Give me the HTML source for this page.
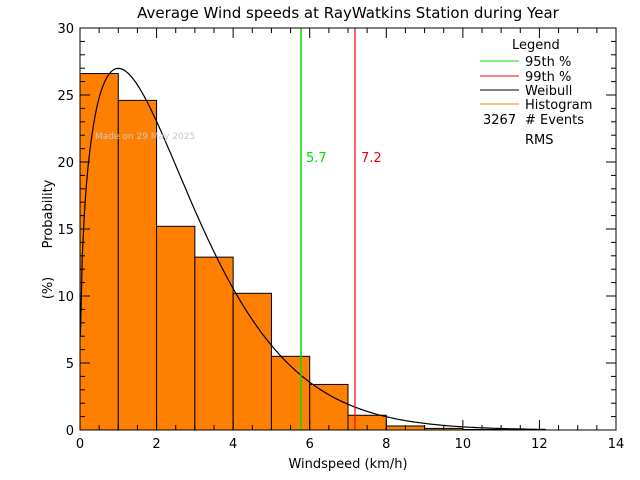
<!DOCTYPE html>
<html><head><style>body{margin:0;background:#fff}svg{display:block}text{font-family:"DejaVu Sans","Liberation Sans",sans-serif}</style></head>
<body>
<svg id="s" width="640" height="480" xmlns="http://www.w3.org/2000/svg">
<rect width="640" height="480" fill="#fff"/>
<g id="bars" fill="#ff8000" stroke="#000" stroke-width="1"></g>
<path id="wb" fill="none" stroke="#000" stroke-width="1.2"/>
<line x1="301" y1="28" x2="301" y2="430" stroke="#00e000" stroke-width="1.5"/>
<line x1="355" y1="28" x2="355" y2="430" stroke="#ff0000" stroke-width="1.2"/>
<text x="306" y="162" font-size="13" fill="#00e000">5.7</text>
<text x="361" y="162" font-size="13" fill="#ff0000">7.2</text>
<text x="95" y="139" font-size="9" fill="#c8c8c8">Made on 29 May 2025</text>
<rect x="80" y="28" width="536" height="402" fill="none" stroke="#000"/>
<g id="ticks" stroke="#000"></g>
<g font-size="13" fill="#000" id="lbl"></g>
<text x="348" y="18" font-size="15" text-anchor="middle">Average Wind speeds at RayWatkins Station during Year</text>
<text x="348" y="468" font-size="13" text-anchor="middle">Windspeed (km/h)</text>
<text transform="translate(52,214) rotate(-90)" font-size="13" text-anchor="middle">Probability</text>
<text transform="translate(52,288) rotate(-90)" font-size="13" text-anchor="middle">(%)</text>
<g font-size="13">
<text x="512" y="49">Legend</text>
<line x1="480" y1="61" x2="519" y2="61" stroke="#00e000"/><text x="525" y="66">95th %</text>
<line x1="480" y1="76" x2="519" y2="76" stroke="#ff0000"/><text x="525" y="81">99th %</text>
<line x1="480" y1="90" x2="519" y2="90" stroke="#000"/><text x="525" y="95">Weibull</text>
<line x1="480" y1="104" x2="519" y2="104" stroke="#ff8000"/><text x="525" y="109">Histogram</text>
<text x="483" y="124">3267</text><text x="525" y="124"># Events</text>
<text x="525" y="144">RMS</text>
</g>
</svg>
<script>
const X=v=>80+v*536/14, Y=v=>430-v*402/30, NS="http://www.w3.org/2000/svg";
function el(p,t,a){const e=document.createElementNS(NS,t);for(const k in a)e.setAttribute(k,a[k]);document.getElementById(p).appendChild(e);return e;}
const h=[26.6,24.6,15.2,12.9,10.2,5.5,3.4,1.1,0.3,0.12,0.04,0.03];
h.forEach((v,i)=>el("bars","rect",{x:X(i),y:Y(v),width:X(1)-X(0),height:Y(0)-Y(v)}));
const k=1.35,l=2.72;let d="";
for(let x=0.01;x<=12.2;x+=0.05){const p=100*k/l*Math.pow(x/l,k-1)*Math.exp(-Math.pow(x/l,k));d+=(d?"L":"M")+X(x).toFixed(1)+","+Y(p).toFixed(1);}
document.getElementById("wb").setAttribute("d",d);
for(let x=0;x<=14;x+=0.5){const L=(x%2==0)?10:5;el("ticks","line",{x1:X(x),y1:430,x2:X(x),y2:430-L});el("ticks","line",{x1:X(x),y1:28,x2:X(x),y2:28+L});}
for(let y=0;y<=30;y+=1){const L=(y%5==0)?10:5;el("ticks","line",{x1:80,y1:Y(y),x2:80+L,y2:Y(y)});el("ticks","line",{x1:616,y1:Y(y),x2:616-L,y2:Y(y)});}
for(let x=0;x<=14;x+=2){const t=el("lbl","text",{x:X(x),y:448,"text-anchor":"middle"});t.textContent=x;}
for(let y=0;y<=30;y+=5){const t=el("lbl","text",{x:74,y:Y(y)+5,"text-anchor":"end"});t.textContent=y;}
</script>
</body></html>
